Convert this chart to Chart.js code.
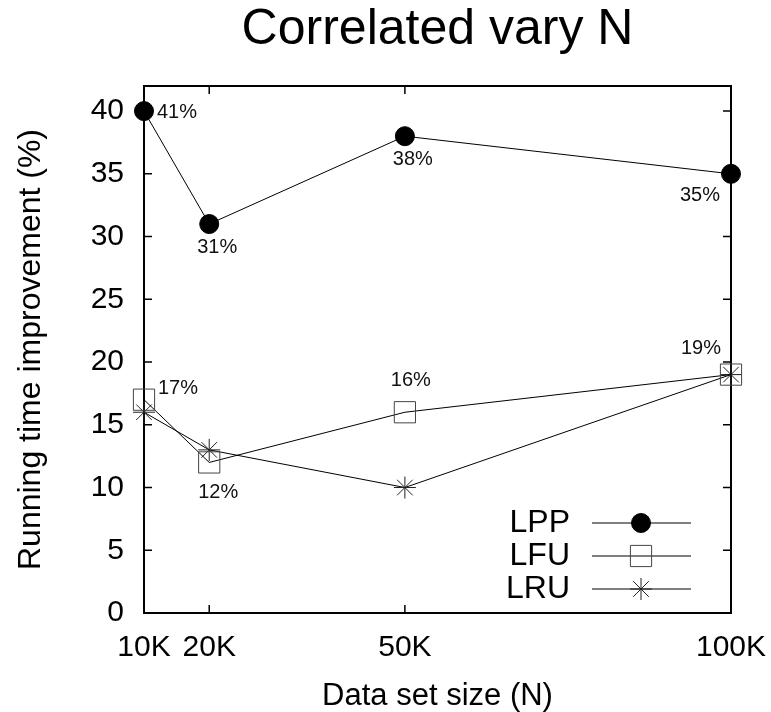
<!DOCTYPE html>
<html lang="en">
<head>
<meta charset="UTF-8" />
<title>Correlated vary N</title>
<script src="https://cdn.jsdelivr.net/npm/chart.js@4/dist/chart.umd.min.js"></script>
<style>
  html, body { margin: 0; padding: 0; background: #fff; }
  canvas { display: block; }
</style>
</head>
<body>
<canvas id="chart" width="771" height="712"></canvas>
<script>
  // data
  const sizes = [10000, 20000, 50000, 100000];
  const xTickLabels = ['10K', '20K', '50K', '100K'];
  const yTicks = [0, 5, 10, 15, 20, 25, 30, 35, 40];
  const lpp = [40, 31, 38, 35];
  const lfu = [17, 12, 16, 19];
  const lru = [16, 13, 10, 19];
  const lppLabels = ['41%', '31%', '38%', '35%'];
  const lfuLabels = ['17%', '12%', '16%', '19%'];

  // where each percentage label sits next to its point: [dx, dy, align]
  const lppLabelPos = [[13, 1, 'left'], [8, 23, 'center'], [8, 23, 'center'], [-31, 22, 'center']];
  const lfuLabelPos = [[14, -11, 'left'], [9, 30, 'center'], [6, -32, 'center'], [-30, -26, 'center']];

  const FONT = '"Liberation Sans", Arial, Helvetica, sans-serif';

  const toPoints = vals => sizes.map((s, i) => ({ x: s, y: vals[i] }));

  const decorations = {
    id: 'decorations',
    beforeDatasetsDraw(chart) {
      const { ctx, chartArea: a, scales: { x, y } } = chart;
      ctx.save();
      ctx.strokeStyle = '#000';
      ctx.lineWidth = 1.5;
      ctx.beginPath();
      sizes.forEach(v => {
        const px = x.getPixelForValue(v);
        ctx.moveTo(px, a.bottom); ctx.lineTo(px, a.bottom - 8);
        ctx.moveTo(px, a.top); ctx.lineTo(px, a.top + 8);
      });
      yTicks.forEach(v => {
        const py = y.getPixelForValue(v);
        ctx.moveTo(a.left, py); ctx.lineTo(a.left + 8, py);
        ctx.moveTo(a.right, py); ctx.lineTo(a.right - 8, py);
      });
      ctx.stroke();
      ctx.lineWidth = 2;
      ctx.strokeRect(a.left, a.top, a.right - a.left, a.bottom - a.top);
      ctx.restore();
    },
    afterDatasetsDraw(chart) {
      const { ctx, chartArea: a, scales: { x, y } } = chart;
      ctx.save();
      // value labels
      ctx.fillStyle = '#111';
      ctx.font = '20px ' + FONT;
      ctx.textBaseline = 'middle';
      const putLabels = (vals, texts, pos) => {
        texts.forEach((t, i) => {
          const [dx, dy, align] = pos[i];
          ctx.textAlign = align;
          ctx.fillText(t, x.getPixelForValue(sizes[i]) + dx, y.getPixelForValue(vals[i]) + dy);
        });
      };
      putLabels(lpp, lppLabels, lppLabelPos);
      putLabels(lfu, lfuLabels, lfuLabelPos);

      // legend, bottom right inside the plot
      const rowsY = [a.bottom - 90, a.bottom - 57, a.bottom - 24];
      chart.data.datasets.forEach((ds, i) => {
        const yy = rowsY[i];
        ctx.fillStyle = '#000';
        ctx.font = '32px ' + FONT;
        ctx.textAlign = 'right';
        ctx.fillText(ds.label, a.right - 161, yy);
        ctx.strokeStyle = '#000';
        ctx.lineWidth = 1;
        ctx.beginPath();
        ctx.moveTo(a.right - 139, yy);
        ctx.lineTo(a.right - 40, yy);
        ctx.stroke();
        ctx.fillStyle = ds.pointBackgroundColor;
        ctx.strokeStyle = ds.pointBorderColor;
        ctx.lineWidth = ds.pointBorderWidth;
        Chart.helpers.drawPoint(ctx, {
          pointStyle: ds.pointStyle, radius: ds.pointRadius,
          borderWidth: ds.pointBorderWidth, rotation: 0
        }, a.right - 90, yy);
      });
      ctx.restore();
    }
  };

  new Chart(document.getElementById('chart'), {
    type: 'line',
    data: {
      datasets: [
        {
          label: 'LPP', data: toPoints(lpp),
          borderColor: '#000', borderWidth: 1,
          pointStyle: 'circle', pointRadius: 9.5,
          pointBackgroundColor: '#000', pointBorderColor: '#000', pointBorderWidth: 1,
          clip: false
        },
        {
          label: 'LFU', data: toPoints(lfu),
          borderColor: '#000', borderWidth: 1,
          pointStyle: 'rect', pointRadius: 15,
          pointBackgroundColor: 'rgba(0,0,0,0)', pointBorderColor: '#444', pointBorderWidth: 1,
          clip: false
        },
        {
          label: 'LRU', data: toPoints(lru),
          borderColor: '#000', borderWidth: 1,
          pointStyle: 'star', pointRadius: 11,
          pointBackgroundColor: 'rgba(0,0,0,0)', pointBorderColor: '#222', pointBorderWidth: 1,
          clip: false
        }
      ]
    },
    options: {
      responsive: false,
      animation: false,
      events: [],
      layout: { padding: { top: 0, right: 40, bottom: 0, left: 0 } },
      plugins: {
        legend: { display: false },
        tooltip: { enabled: false },
        title: {
          display: true,
          fullSize: false,
          text: 'Correlated vary N',
          color: '#000',
          font: { family: FONT, size: 50, weight: 'normal' },
          padding: { top: 0, bottom: 26 }
        }
      },
      scales: {
        x: {
          type: 'linear',
          min: 10000, max: 100000,
          afterBuildTicks: s => { s.ticks = sizes.map(v => ({ value: v })); },
          afterFit: s => { s.height = 99; s.paddingLeft = 0; s.paddingRight = 0; },
          grid: { display: false, drawTicks: false },
          border: { display: false },
          ticks: {
            color: '#000', padding: 17, maxRotation: 0, autoSkip: false,
            font: { family: FONT, size: 30 },
            callback: v => xTickLabels[sizes.indexOf(v)]
          },
          title: {
            display: true, text: 'Data set size (N)', color: '#000',
            font: { family: FONT, size: 31 },
            padding: { top: 0, bottom: -3 }
          }
        },
        y: {
          min: 0, max: 42,
          afterBuildTicks: s => { s.ticks = yTicks.map(v => ({ value: v })); },
          afterFit: s => { s.width = 144; s.paddingTop = 0; s.paddingBottom = 0; },
          grid: { display: false, drawTicks: false },
          border: { display: false },
          ticks: {
            color: '#000', padding: 20,
            font: { family: FONT, size: 30 }
          },
          title: {
            display: true, text: 'Running time improvement (%)', color: '#000',
            font: { family: FONT, size: 32 },
            padding: { top: 12, bottom: 0 }
          }
        }
      }
    },
    plugins: [decorations]
  });
</script>
</body>
</html>
